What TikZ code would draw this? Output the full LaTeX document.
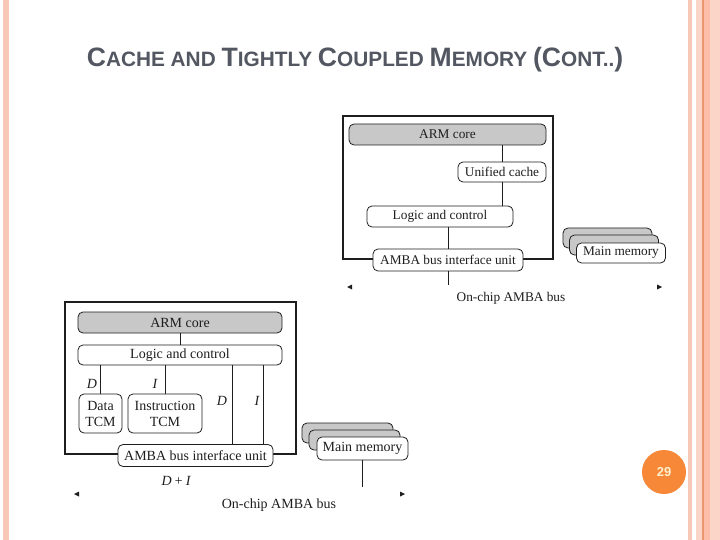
\documentclass[tikz,border=0pt]{standalone}
\usepackage{fontspec}
\setmainfont{Liberation Serif}
\newfontfamily\headfont{Liberation Sans}
\usetikzlibrary{positioning}
\definecolor{titlegray}{RGB}{82,87,97}
\definecolor{coregray}{RGB}{200,200,200}
\definecolor{stripa}{RGB}{248,200,182}
\definecolor{stripb}{RGB}{251,214,200}
\definecolor{stripc}{RGB}{252,190,168}
\definecolor{stripd}{RGB}{236,150,110}
\definecolor{badge}{RGB}{246,136,56}
\definecolor{badgetext}{RGB}{255,240,205}
\definecolor{ink}{RGB}{30,30,30}

\begin{document}
\begin{tikzpicture}[x=1pt,y=-1pt,
  blk/.style={draw=ink,rounded corners=5pt,fill=white,inner sep=0pt,line width=0.8pt,text=ink,font=\fontsize{13.3}{15}\selectfont},
  core/.style={blk,fill=coregray},
  big/.style={font=\fontsize{14}{16}\selectfont},
  chip/.style={draw=ink,line width=2.6pt,inner sep=0pt},
  lbl/.style={text=ink,font=\fontsize{14}{15}\selectfont\itshape},
  wire/.style={draw=ink,line width=0.8pt}]

\useasboundingbox[fill=white] (0,0) rectangle (720,540);

% page edges
\fill[stripa] (3,0) rectangle (9,540);
\fill[stripa] (688,0) rectangle (692,540);
\fill[stripb] (696,0) rectangle (702,540);
\fill[stripd] (702,0) rectangle (703.5,540);
\fill[stripc] (703.5,0) rectangle (710,540);
\fill[stripb] (710,0) rectangle (720,540);

% title
\node[text=titlegray,font=\headfont\bfseries] (title) at (355,59.5)
  {{\fontsize{26.6}{27}\selectfont C}{\fontsize{20.8}{21}\selectfont ACHE AND }{\fontsize{26.6}{27}\selectfont T}{\fontsize{20.8}{21}\selectfont IGHTLY }{\fontsize{26.6}{27}\selectfont C}{\fontsize{20.8}{21}\selectfont OUPLED }{\fontsize{26.6}{27}\selectfont M}{\fontsize{20.8}{21}\selectfont EMORY }{\fontsize{26.6}{27}\selectfont (C}{\fontsize{20.8}{21}\selectfont ONT..}{\fontsize{26.6}{27}\selectfont )}};

% cache version
\node[chip,minimum width=210,minimum height=143] (chipA) at (448,187.5) {};
\node[core,minimum width=197,minimum height=21] (armA) at (447.5,134.5) {ARM core};
\node[blk,minimum width=88,minimum height=20] (cacheA) at (502,172) {Unified cache};
\node[blk,minimum width=146,minimum height=21] (logicA) at (440,216.5) {Logic and control};
\node[blk,minimum width=150,minimum height=22] (ambaA) at (448,260) {AMBA bus interface unit};
\coordinate (busA) at (448,285);
\draw[wire] (cacheA.north) -- (cacheA.north |- armA.south);
\draw[wire] (cacheA.south) -- (cacheA.south |- logicA.north);
\draw[wire] (ambaA.north) -- (ambaA.north |- logicA.south);
\draw[wire] (ambaA.south) -- (busA);
\fill[ink] (347,287) -- ++(5,-2.5) -- ++(0,5) -- cycle;
\fill[ink] (662,287) -- ++(-5,-2.5) -- ++(0,5) -- cycle;
\node[text=ink,font=\fontsize{13.3}{14}\selectfont] (busTextA) at (511,298) {On-chip AMBA bus};

\node[core,minimum width=89,minimum height=20] (memA3) at (607.5,238) {};
\node[core,minimum width=89,minimum height=20] (memA2) at (614,245) {};
\node[blk,minimum width=89,minimum height=20] (memA1) at (621,253) {Main memory};

% TCM version
\node[chip,minimum width=231,minimum height=152] (chipB) at (180.5,378) {};
\node[core,big,minimum width=204,minimum height=21] (armB) at (180,322.5) {ARM core};
\node[blk,big,minimum width=204,minimum height=20] (logicB) at (180,355) {Logic and control};
\node[blk,big,minimum width=43,minimum height=39,align=center] (dtcm) at (100.5,413.5) {Data\\TCM};
\node[blk,big,minimum width=74,minimum height=39,align=center] (itcm) at (165,413.5) {Instruction\\TCM};
\node[blk,big,minimum width=155,minimum height=22] (ambaB) at (195.5,455.5) {AMBA bus interface unit};
\draw[wire] (armB.south) -- (logicB.north);
\draw[wire] (dtcm.north) -- (dtcm.north |- logicB.south);
\draw[wire] (itcm.north) -- (itcm.north |- logicB.south);
\draw[wire] ([xshift=36.5]ambaB.north) -- ([xshift=36.5]ambaB.north |- logicB.south);
\draw[wire] ([xshift=67.5]ambaB.north) -- ([xshift=67.5]ambaB.north |- logicB.south);
\node[lbl] (dLbl) at (92,384) {D};
\node[lbl] (iLbl) at (155,384) {I};
\node[lbl] (dBusLbl) at (222,401) {D};
\node[lbl] (iBusLbl) at (257,401) {I};
\node[lbl] (diLbl) at (176,481) {D\,+\,I};

\node[core,minimum width=91,minimum height=20] (memB3) at (347.5,433) {};
\node[core,minimum width=91,minimum height=20] (memB2) at (354.5,440) {};
\node[blk,big,minimum width=91,minimum height=23] (memB1) at (362.5,448.5) {Main memory};
\coordinate (busB) at (362.5,487);
\draw[wire] (memB1.south) -- (busB);
\fill[ink] (74,494) -- ++(5,-2.5) -- ++(0,5) -- cycle;
\fill[ink] (405,494) -- ++(-5,-2.5) -- ++(0,5) -- cycle;
\node[text=ink,font=\fontsize{14}{15}\selectfont] (busTextB) at (279,505) {On-chip AMBA bus};

% page number
\node[circle,fill=badge,minimum size=44,inner sep=0pt,text=badgetext,font=\headfont\bfseries\fontsize{13}{14}\selectfont] (page) at (664,472) {29};

\end{tikzpicture}
\end{document}
